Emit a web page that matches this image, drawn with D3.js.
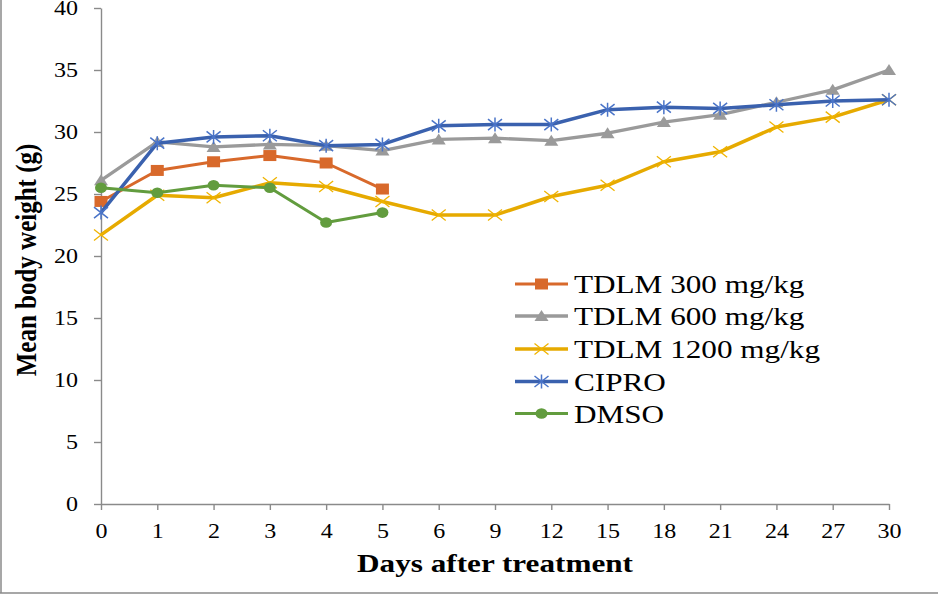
<!DOCTYPE html>
<html><head><meta charset="utf-8">
<script src="https://cdn.jsdelivr.net/npm/d3@7"></script>
<style>body{margin:0;background:#fff}svg{display:block}</style>
</head><body>
<script>
const days = ["0","1","2","3","4","5","6","9","12","15","18","21","24","27","30"];
const yTicks = [0,5,10,15,20,25,30,35,40];
const seriesNames = ["TDLM 300 mg/kg","TDLM 600 mg/kg","TDLM 1200 mg/kg","CIPRO","DMSO"];
const tdlm300  = [24.4,26.9,27.6,28.1,27.5,25.4];
const tdlm600  = [26.1,29.2,28.8,29.0,28.9,28.5,29.4,29.5,29.3,29.9,30.8,31.4,32.4,33.4,35.0];
const tdlm1200 = [21.7,24.9,24.7,25.9,25.6,24.4,23.3,23.3,24.8,25.7,27.6,28.4,30.4,31.2,32.6];
const cipro    = [23.5,29.1,29.6,29.7,28.9,29.0,30.5,30.6,30.6,31.8,32.0,31.9,32.2,32.5,32.6];
const dmso     = [25.5,25.1,25.7,25.5,22.7,23.5];

const W=938,H=594, SX=1.2;
const series = [
  {name:seriesNames[0], values:tdlm300,  color:"#D8692B", mcolor:"#D8692B", lw:3,   marker:"square"},
  {name:seriesNames[1], values:tdlm600,  color:"#9A9A9A", mcolor:"#9A9A9A", lw:3.3, marker:"triangle"},
  {name:seriesNames[2], values:tdlm1200, color:"#E6AA00", mcolor:"#F0B400", lw:3.5, marker:"x"},
  {name:seriesNames[3], values:cipro,    color:"#3A61AE", mcolor:"#4A74C8", lw:3.5, marker:"star"},
  {name:seriesNames[4], values:dmso,     color:"#629C3E", mcolor:"#629C3E", lw:3,   marker:"circle"}
];

const svg = d3.select("body").append("svg").attr("width",W).attr("height",H);
svg.append("rect").attr("width",W).attr("height",H).attr("fill","#fff");
// frame
svg.append("line").attr("x1",1).attr("x2",1).attr("y1",0).attr("y2",593).attr("stroke","#8a8a8a").attr("stroke-width",1.5);
svg.append("line").attr("x1",0).attr("x2",W).attr("y1",593).attr("y2",593).attr("stroke","#8a8a8a").attr("stroke-width",1.5);

const x = d3.scalePoint().domain(days).range([101,889]);
const y = d3.scaleLinear().domain([0,40]).range([504,8]);
const font = "'Liberation Serif','Times New Roman',serif";
const axisColor = "#8a8a8a";

// Y axis
const gy = svg.append("g").attr("transform","translate(101,0)")
  .call(d3.axisLeft(y).tickValues(yTicks).tickSize(7).tickSizeOuter(0));
gy.select(".domain").attr("stroke",axisColor).attr("stroke-width",1.4);
gy.selectAll(".tick line").attr("stroke",axisColor).attr("stroke-width",1.4);
gy.selectAll(".tick text").attr("x",null).attr("dy",null).attr("y",null)
  .attr("transform",`translate(-23,6.8) scale(${SX},1)`)
  .attr("text-anchor","end").attr("font-family",font).attr("font-size",20).attr("fill","#000");

// X axis
const gx = svg.append("g").attr("transform","translate(0,504)")
  .call(d3.axisBottom(x).tickSize(6).tickSizeOuter(0));
gx.select(".domain").attr("stroke",axisColor).attr("stroke-width",1.4);
gx.selectAll(".tick line").attr("stroke",axisColor).attr("stroke-width",1.4);
gx.selectAll(".tick text").attr("x",null).attr("dy",null).attr("y",null)
  .attr("transform",`translate(0,34) scale(${SX},1)`)
  .attr("text-anchor","middle").attr("font-family",font).attr("font-size",20).attr("fill","#000");

// Titles
svg.append("text").attr("transform",`translate(495,572) scale(${SX},1)`)
  .attr("text-anchor","middle").attr("font-family",font).attr("font-weight","bold")
  .attr("font-size",26).text("Days after treatment");
svg.append("text").attr("transform",`translate(36,260) scale(${SX},1) rotate(-90)`)
  .attr("text-anchor","middle").attr("font-family",font).attr("font-weight","bold")
  .attr("font-size",25).text("Mean body weight (g)");

function drawMarker(g, type, cx, cy, color){
  if(type==="square"){
    g.append("rect").attr("x",cx-6.5).attr("y",cy-5.5).attr("width",13).attr("height",11).attr("fill",color);
  } else if(type==="triangle"){
    g.append("path").attr("d",`M${cx},${cy-6}L${cx+7},${cy+5}L${cx-7},${cy+5}Z`).attr("fill",color);
  } else if(type==="circle"){
    g.append("ellipse").attr("cx",cx).attr("cy",cy).attr("rx",6).attr("ry",5.3).attr("fill",color);
  } else if(type==="x"){
    g.append("path").attr("d",`M${cx-7},${cy-5.5}L${cx+7},${cy+5.5}M${cx-7},${cy+5.5}L${cx+7},${cy-5.5}`)
      .attr("stroke",color).attr("stroke-width",1.3).attr("fill","none");
  } else if(type==="star"){
    g.append("path").attr("d",`M${cx-7},${cy-5.5}L${cx+7},${cy+5.5}M${cx-7},${cy+5.5}L${cx+7},${cy-5.5}M${cx},${cy-7}L${cx},${cy+7}`)
      .attr("stroke",color).attr("stroke-width",1.5).attr("fill","none");
  }
}

const line = d3.line().x((d,i)=>x(days[i])).y(d=>y(d));
series.forEach(s=>{
  const g = svg.append("g");
  g.append("path").datum(s.values).attr("d",line).attr("fill","none")
    .attr("stroke",s.color).attr("stroke-width",s.lw).attr("stroke-linejoin","round");
  s.values.forEach((v,i)=>drawMarker(g,s.marker,x(days[i]),y(v),s.mcolor));
});

// Legend
const legY = [284,316,349,381.5,413.5];
series.forEach((s,i)=>{
  const g = svg.append("g");
  const ly = legY[i];
  g.append("line").attr("x1",515).attr("x2",568).attr("y1",ly).attr("y2",ly)
    .attr("stroke",s.color).attr("stroke-width",s.lw);
  drawMarker(g,s.marker,541.5,ly,s.mcolor);
  g.append("text").attr("transform",`translate(574,${ly+9}) scale(${SX},1)`)
    .attr("font-family",font).attr("font-size",26).attr("fill","#000").text(s.name);
});
</script>
</body></html>
